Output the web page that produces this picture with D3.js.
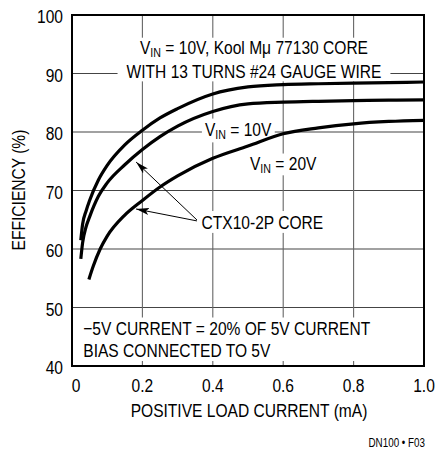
<!DOCTYPE html>
<html><head><meta charset="utf-8">
<script src="https://cdn.jsdelivr.net/npm/d3@7/dist/d3.min.js"></script>
<style>
html,body{margin:0;padding:0;background:#fff}
svg{display:block}
text{font-family:"Liberation Sans",Arial,sans-serif;fill:#000}
</style>
</head><body>
<svg id="chart" width="439" height="451"></svg>
<script>
// ---- data ----
const xTicks = [0, 0.2, 0.4, 0.6, 0.8, 1.0];
const xTickLabels = ["0", "0.2", "0.4", "0.6", "0.8", "1.0"];
const yTicks = [40, 50, 60, 70, 80, 90, 100];
const yTickLabels = ["40", "50", "60", "70", "80", "90", "100"];

const koolCurrent = [0.025, 0.03, 0.04, 0.05, 0.075, 0.1, 0.15, 0.2, 0.25, 0.3, 0.4, 0.5, 0.6, 0.7, 0.8, 0.9, 1.0];
const koolEff     = [61.5, 64.2, 66.5, 68.3, 71.8, 74.3, 77.8, 80.3, 82.4, 84.0, 86.5, 87.7, 88.1, 88.25, 88.35, 88.45, 88.55];

const ctx10Current = [0.025, 0.03, 0.04, 0.05, 0.075, 0.1, 0.15, 0.2, 0.25, 0.3, 0.4, 0.5, 0.6, 0.7, 0.8, 0.9, 1.0];
const ctx10Eff     = [58.3, 61.0, 63.8, 65.5, 69.0, 71.3, 74.4, 77.0, 79.2, 81.0, 83.5, 84.8, 85.1, 85.25, 85.35, 85.45, 85.5];

const ctx20Current = [0.048, 0.06, 0.08, 0.1, 0.15, 0.2, 0.25, 0.3, 0.4, 0.5, 0.6, 0.7, 0.8, 0.9, 1.0];
const ctx20Eff     = [54.8, 57.0, 60.0, 62.2, 65.8, 68.3, 70.6, 72.5, 75.5, 77.6, 79.7, 80.7, 81.4, 81.8, 82.0];

const seriesNames = ["Kool Mu 10V", "CTX10-2P 10V", "CTX10-2P 20V"];

// ---- layout ----
const SX = 0.82; // horizontal condensing of the font
const svg = d3.select("#chart");
const x = d3.scaleLinear().domain([0, 1]).range([72, 424]);
const y = d3.scaleLinear().domain([40, 100]).range([366, 15]);

const gridLayer = svg.append("g");
const boxLayer = svg.append("g");
const curveLayer = svg.append("g");
const textLayer = svg.append("g");
const arrowLayer = svg.append("g");
const frameLayer = svg.append("g");

// condensed text helper
function ctext(parent, px, py, str, opts) {
  opts = opts || {};
  const g = parent.append("g")
    .attr("transform", `translate(${px},${py})${opts.rotate ? " rotate(" + opts.rotate + ")" : ""} scale(${SX},1)`);
  const t = g.append("text").attr("x", 0).attr("y", 0)
    .attr("text-anchor", opts.anchor || "start")
    .attr("font-size", opts.size || 19);
  if (typeof str === "string") t.text(str);
  else {
    str.forEach((p, i) => {
      const ts = t.append("tspan").text(p[0]);
      if (p[1]) ts.attr("font-size", 13).attr("dy", 3);
      else if (i > 0) ts.attr("dy", -3);
    });
  }
  return g;
}

// gridlines
gridLayer.selectAll("line.h").data(yTicks.slice(1, -1)).join("line")
  .attr("x1", x(0)).attr("x2", x(1))
  .attr("y1", d => y(d)).attr("y2", d => y(d))
  .attr("stroke", "#444").attr("stroke-width", 1.1);
gridLayer.selectAll("line.v").data(xTicks.slice(1, -1)).join("line")
  .attr("y1", y(40)).attr("y2", y(100))
  .attr("x1", d => x(d)).attr("x2", d => x(d))
  .attr("stroke", "#666").attr("stroke-width", 1.1);

// curves
const series = [
  {name: seriesNames[0], xs: koolCurrent, ys: koolEff},
  {name: seriesNames[1], xs: ctx10Current, ys: ctx10Eff},
  {name: seriesNames[2], xs: ctx20Current, ys: ctx20Eff}
];
const line = d3.line().x(d => x(d[0])).y(d => y(d[1])).curve(d3.curveMonotoneX);
curveLayer.selectAll("path").data(series).join("path")
  .attr("d", s => line(s.xs.map((v, i) => [v, s.ys[i]])))
  .attr("fill", "none").attr("stroke", "#000").attr("stroke-width", 3.2)
  .attr("stroke-linecap", "butt");

// annotations (in data coordinates)
const labels = [
  {x: 0.517, lines: [{y: 93.3, parts: [["V"], ["IN", 1], [" = 10V, Kool M\u03bc 77130 CORE"]]},
                     {y: 89.23, parts: [["WITH 13 TURNS #24 GAUGE WIRE"]]}], anchor: "middle", padX: 9, padY: -1},
  {x: 0.472, lines: [{y: 79.3, parts: [["V"], ["IN", 1], [" = 10V"]]}], anchor: "middle", padX: 3, padY: 0},
  {x: 0.600, lines: [{y: 73.5, parts: [["V"], ["IN", 1], [" = 20V"]]}], anchor: "middle", padX: 3, padY: -1},
  {x: 0.368, lines: [{y: 63.5, parts: [["CTX10-2P CORE"]]}], anchor: "start", padX: 3, padY: 0},
  {x: 0.032, lines: [{y: 45.3, parts: [["\u22125V CURRENT = 20% OF 5V CURRENT"]]},
                     {y: 41.6, parts: [["BIAS CONNECTED TO 5V"]]}], anchor: "start", padX: 6, padY: 0}
];
labels.forEach(lb => {
  const g = textLayer.append("g");
  lb.lines.forEach(ln => ctext(g, x(lb.x), y(ln.y), ln.parts, {anchor: lb.anchor}));
  const b = g.node().getBBox();
  boxLayer.append("rect")
    .attr("x", b.x - lb.padX).attr("y", b.y - lb.padY)
    .attr("width", b.width + 2 * lb.padX).attr("height", b.height + 2 * lb.padY)
    .attr("fill", "#fff");
});

// arrows
const arrows = [
  {x1: 0.355, y1: 64.96, x2: 0.182, y2: 74.87},
  {x1: 0.355, y1: 64.80, x2: 0.182, y2: 66.84}
];
const defs = svg.append("defs");
defs.append("marker").attr("id", "ah").attr("viewBox", "0 0 13 7")
  .attr("refX", 13).attr("refY", 3.5).attr("markerWidth", 13).attr("markerHeight", 7)
  .attr("markerUnits", "userSpaceOnUse").attr("orient", "auto")
  .append("path").attr("d", "M0,0 L13,3.5 L0,7 L3,3.5 Z").attr("fill", "#000");
arrowLayer.selectAll("line").data(arrows).join("line")
  .attr("x1", d => x(d.x1)).attr("y1", d => y(d.y1))
  .attr("x2", d => x(d.x2)).attr("y2", d => y(d.y2))
  .attr("stroke", "#000").attr("stroke-width", 1).attr("marker-end", "url(#ah)");

// frame
frameLayer.append("rect")
  .attr("x", x(0)).attr("y", y(100))
  .attr("width", x(1) - x(0)).attr("height", y(40) - y(100))
  .attr("fill", "none").attr("stroke", "#000").attr("stroke-width", 2);

// tick labels
yTicks.forEach((d, i) => ctext(frameLayer, 63, y(d) + 8, yTickLabels[i], {anchor: "end"}));
xTicks.forEach((d, i) => ctext(frameLayer, x(d) + (d === 0 ? 4 : 0), y(40) + 26, xTickLabels[i], {anchor: "middle"}));

// axis titles
ctext(frameLayer, 249, 417, "POSITIVE LOAD CURRENT (mA)", {anchor: "middle"});
ctext(frameLayer, 25, 190, "EFFICIENCY (%)", {anchor: "middle", rotate: -90});
ctext(frameLayer, 425, 447, "DN100 \u2022 F03", {anchor: "end", size: 12});
</script>
</body></html>
